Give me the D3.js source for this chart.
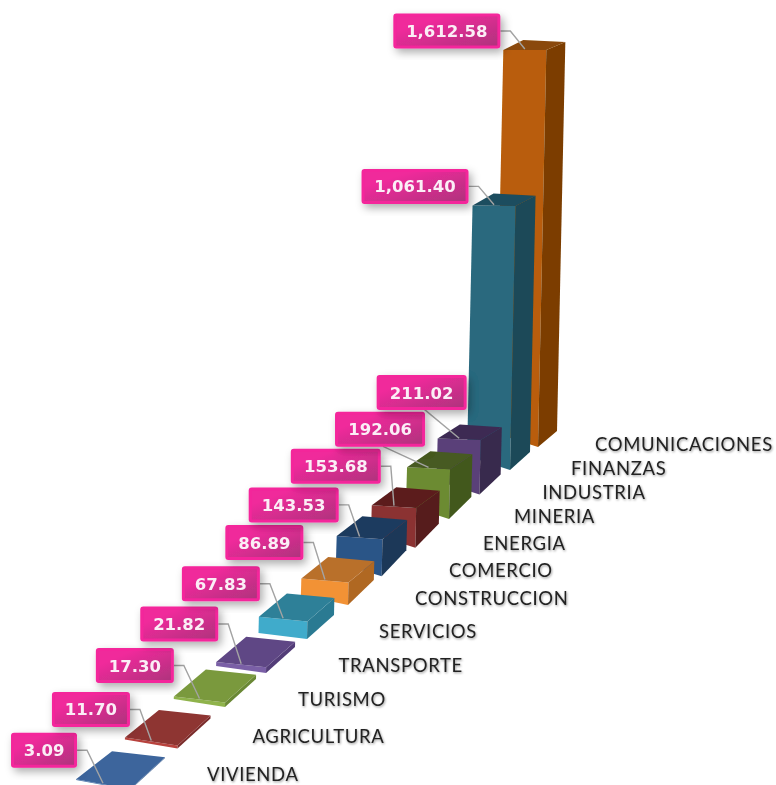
<!DOCTYPE html>
<html><head><meta charset="utf-8">
<script src="https://cdn.jsdelivr.net/npm/d3@7"></script>
<style>html,body{margin:0;background:#fff}svg{display:block}</style></head>
<body><svg id="c" width="776" height="785"></svg>
<script>
// Data, front of the chart first
const categories = ["VIVIENDA","AGRICULTURA","TURISMO","TRANSPORTE","SERVICIOS","CONSTRUCCION","COMERCIO","ENERGIA","MINERIA","INDUSTRIA","FINANZAS","COMUNICACIONES"];
const values = [3.09,11.70,17.30,21.82,67.83,86.89,143.53,153.68,192.06,211.02,1061.40,1612.58];
const frontColors = ["#4a74ab","#b8433e","#8fb34c","#7a5fa6","#3fabcb","#f29236","#2b5487","#8b3230","#6c8b31","#5a4179","#29697e","#b95d07"];
const topColors   = ["#3c659c","#8e3432","#7a993d","#5e4685","#2d8098","#b9702b","#1f3b5e","#5b1f1e","#465a20","#3c2b53","#1c4d5e","#8a4a0a"];
const sideColors  = ["#35598c","#7a2c2a","#6a8835","#523c78","#2a7a92","#b06824","#1d3858","#571d1c","#43581e","#39294d","#1a4a58","#7b3e04"];
// Hand-placed data labels, relative to each bar's top-left corner
const labelDx = [1,5,0,2,1,2,2,9,18,29,-4,-3];
const labelDy = [-29,-28,-31,-38,-33,-36,-31,-39,-38,-46,-19,-19];

const height = d3.scaleLinear().domain([0,1612.58]).range([0,397]);
const nearness = d3.scaleLinear().domain([0,9,10,11]).range([1.05,1.05,1.01,1]);
const baseX = d3.scaleLinear().domain([0,2,5,8,10,11]).range([130,225,348,449,510,538]);
const baseY = d3.scaleLinear().domain([0,2,5,8,10,11]).range([790,707,605,519,470,447]);
const faceW = d3.scaleLinear().domain([0,8,11]).range([54,43,43]);
const topTilt = d3.scaleLinear().domain([0,2,11]).range([10,6,0]);
const baseTilt = d3.scaleLinear().domain([0,4,6,11]).range([10,6,14,14]);
const depthX = d3.scaleLinear().domain([0,4,10,11]).range([35,27,20,19]);
const topDepthY = d3.scaleLinear().domain([0,8,11]).range([32,15,8]);
const baseDepthY = d3.scaleLinear().domain([0,4,6,11]).range([32,24,26,16]);
const backTilt = d3.scaleLinear().domain([0,11]).range([6,2]);
const catX = d3.scaleLinear().domain([0,2,4,5,7,8,10,11]).range([207,298,379,415,483,514,571,595]);
const catY = d3.scaleLinear().domain([0,2,5,8,11]).range([773,698,597,515,443]);
const LEAN = 0.021;

const bars = categories.map((name,i)=>{
  const h = height(values[i])*nearness(i), bx = baseX(i), by = baseY(i), w = faceW(i);
  const tx = bx + LEAN*h, ty = by - h;
  const fbr=[bx,by], ftr=[tx,ty], ftl=[tx-w,ty-topTilt(i)], fbl=[bx-w,by-baseTilt(i)];
  const btr=[tx+depthX(i),ty-topDepthY(i)], bbr=[bx+depthX(i),by-baseDepthY(i)];
  const btl=[btr[0]-w+1,btr[1]-backTilt(i)];
  const lr = ftl[0]+labelDx[i], lc = ftl[1]+labelDy[i];
  return {name,i,value:values[i],fbr,ftr,ftl,fbl,btr,bbr,btl,lr,lc};
});
const path = p => "M"+p.map(d=>d.join(",")).join("L")+"Z";

const svg = d3.select("#c");
const defs = svg.append("defs");
const g0 = defs.append("linearGradient").attr("id","pink").attr("x1",0).attr("y1",0).attr("x2",1).attr("y2",1);
g0.append("stop").attr("offset",0.25).attr("stop-color","#f02a9b");
g0.append("stop").attr("offset",1).attr("stop-color","#ad327c");
const sh = defs.append("filter").attr("id","shadow").attr("x","-20%").attr("y","-30%").attr("width","150%").attr("height","170%");
sh.append("feDropShadow").attr("dx",3).attr("dy",4).attr("stdDeviation",4.5).attr("flood-color","#000").attr("flood-opacity",0.32);
const soft = defs.append("filter").attr("id","soft").attr("x","-5%").attr("y","-5%").attr("width","110%").attr("height","110%");
soft.append("feGaussianBlur").attr("stdDeviation",0.7);
const ts = defs.append("filter").attr("id","tshadow").attr("x","-5%").attr("y","-20%").attr("width","110%").attr("height","150%");
ts.append("feDropShadow").attr("dx",0.8).attr("dy",1.2).attr("stdDeviation",1).attr("flood-color","#000").attr("flood-opacity",0.4);

const root = svg.append("g").attr("filter","url(#soft)");
const barG = root.selectAll("g.bar").data(bars.slice().reverse()).join("g").attr("class","bar");
barG.append("path").attr("d",d=>path([d.ftl,d.ftr,d.fbr,d.fbl])).attr("fill",d=>frontColors[d.i]);
barG.append("path").attr("d",d=>path([d.ftr,d.btr,d.bbr,d.fbr])).attr("fill",d=>sideColors[d.i]);
barG.append("path").attr("d",d=>path([d.ftl,d.btl,d.btr,d.ftr])).attr("fill",d=>topColors[d.i]);

root.append("g").attr("filter","url(#tshadow)").selectAll("text.cat").data(bars).join("text").attr("class","cat")
  .attr("x",d=>catX(d.i)).attr("y",d=>catY(d.i)+7.5)
  .attr("font-family","Lato, 'Open Sans', sans-serif").attr("font-size",18.5).attr("letter-spacing",0.65).attr("fill","#222")
  .text(d=>d.name);

const fmt = d3.format(",.2f");
const boxW = d => d.value>=1000 ? 107 : d.value>=100 ? 90 : d.value>=10 ? 78 : 66;
root.selectAll("path.lead").data(bars).join("path").attr("class","lead")
  .attr("fill","none").attr("stroke","#a3a3a3").attr("stroke-width",1.4)
  .attr("d",d=>{
    const end=[(d.ftl[0]+d.ftr[0])/2,(d.ftl[1]+d.ftr[1])/2-1];
    return (d.i===8||d.i===9)
      ? d3.line()([[d.lr-42,d.lc+17],end])
      : d3.line()([[d.lr,d.lc],[d.lr+10,d.lc],end]);
  });
const lab = root.selectAll("g.lab").data(bars).join("g").attr("class","lab");
lab.append("rect").attr("x",d=>d.lr-boxW(d)+1.5).attr("y",d=>d.lc-16).attr("width",d=>boxW(d)-3).attr("height",32)
  .attr("rx",1.5).attr("fill","url(#pink)").attr("stroke","#f4259b").attr("stroke-width",3).attr("filter","url(#shadow)");
lab.append("text").attr("x",d=>d.lr-boxW(d)/2).attr("y",d=>d.lc+6).attr("text-anchor","middle")
  .attr("font-family","'DejaVu Sans', sans-serif").attr("font-weight","bold").attr("font-size",16.5).attr("fill","#fbeef6")
  .text(d=>fmt(d.value));
</script></body></html>
